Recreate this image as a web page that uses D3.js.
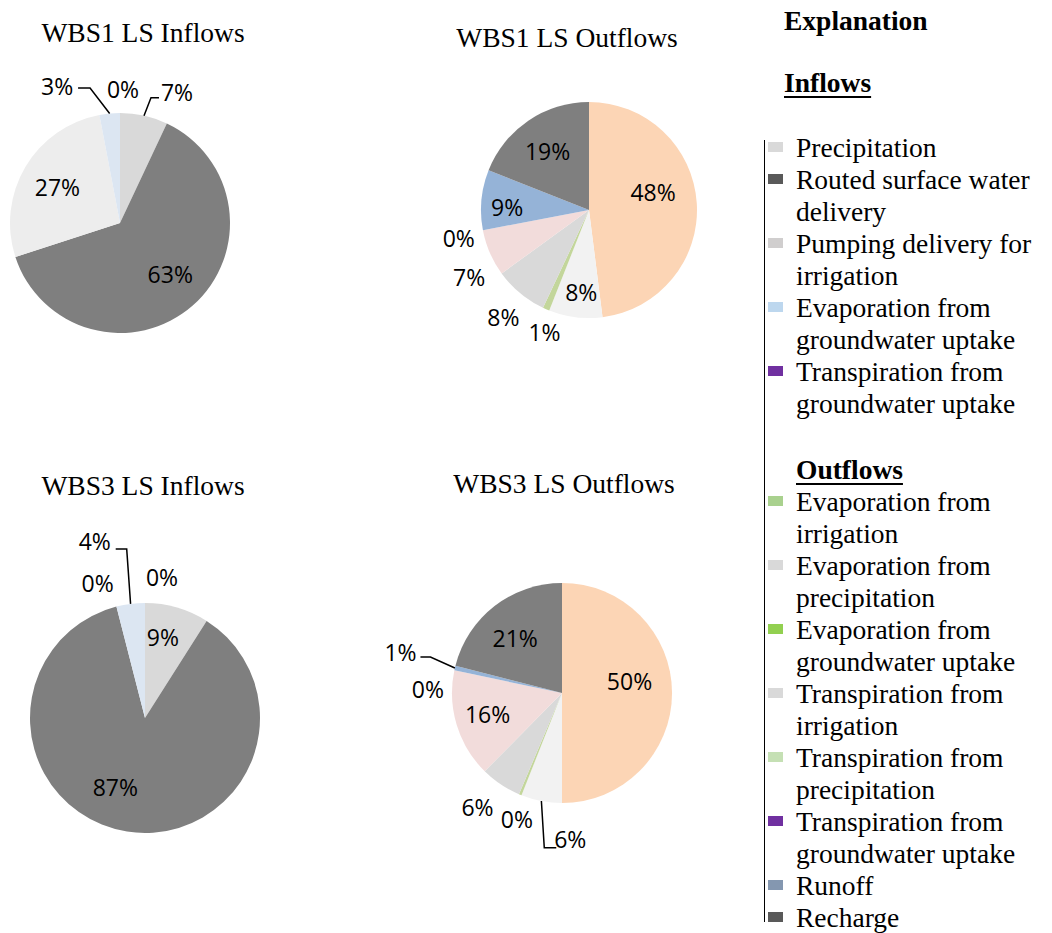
<!DOCTYPE html>
<html>
<head>
<meta charset="utf-8">
<script src="https://cdn.jsdelivr.net/npm/d3@7"></script>
<style>
  html, body { margin: 0; padding: 0; background: #fff; }
  svg { display: block; }
</style>
</head>
<body>
<svg id="chart" width="1052" height="933"></svg>
<script>
// ---------- DATA ----------
const inflowCategories = ["Precipitation", "Routed surface water delivery", "Pumping delivery for irrigation",
  "Evaporation from groundwater uptake", "Transpiration from groundwater uptake"];
const outflowCategories = ["Evaporation from irrigation", "Evaporation from precipitation",
  "Evaporation from groundwater uptake", "Transpiration from irrigation", "Transpiration from precipitation",
  "Transpiration from groundwater uptake", "Runoff", "Recharge"];

const wbs1Inflows  = [7, 63, 27, 3, 0];
const wbs1Outflows = [48, 8, 1, 8, 7, 0, 9, 19];
const wbs3Inflows  = [9, 87, 0, 4, 0];
const wbs3Outflows = [50, 6, 0.4, 6, 15.9, 0, 0.7, 21];

const inflowPieColors  = ["#d9d9d9", "#7f7f7f", "#ededed", "#dce6f2", "#7030a0"];
const outflowPieColors = ["#fcd5b5", "#f2f2f2", "#c3d69b", "#d9d9d9", "#f2dcdb", "#7030a0", "#95b3d7", "#7f7f7f"];

const inflowLegendLines = [["Precipitation"], ["Routed surface water", "delivery"], ["Pumping delivery for", "irrigation"],
  ["Evaporation from", "groundwater uptake"], ["Transpiration from", "groundwater uptake"]];
const outflowLegendLines = [["Evaporation from", "irrigation"], ["Evaporation from", "precipitation"],
  ["Evaporation from", "groundwater uptake"], ["Transpiration from", "irrigation"], ["Transpiration from", "precipitation"],
  ["Transpiration from", "groundwater uptake"], ["Runoff"], ["Recharge"]];
const inflowLegendColors  = ["#d9d9d9", "#595959", "#d0cece", "#bdd7ee", "#7030a0"];
const outflowLegendColors = ["#a9d18e", "#d9d9d9", "#92d050", "#d9d9d9", "#c5e0b4", "#7030a0", "#8497b0", "#595959"];

const titles = ["WBS1 LS Inflows", "WBS1 LS Outflows", "WBS3 LS Inflows", "WBS3 LS Outflows"];

// ---------- LAYOUT ----------
const svg = d3.select("#chart");
const serif = "'Liberation Serif', 'Times New Roman', serif";
const sans = "'Open Sans', 'Noto Sans', sans-serif";

const pies = [
  { title: titles[0], values: wbs1Inflows, colors: inflowPieColors, cx: 120, cy: 223, r: 110, tx: 143, ty: 42,
    k:     [1.25, 0.65, 0.65, 1.25, 1.25],
    nudge: [[27, 4], [3, -2], [-1, 1], [-50, 1], [3, 4]],
    leaders: { 0: [[-18, 5], [-26, 5]], 3: [[21, 1], [33, 1]] } },
  { title: titles[1], values: wbs1Outflows, colors: outflowPieColors, cx: 589, cy: 210, r: 108, tx: 567, ty: 47,
    k:     [0.65, 0.65, 1.2, 1.2, 1.2, 1.2, 0.65, 0.65],
    nudge: [[-6, -13], [1, 13], [7, 4], [-3, 8], [-1, 16], [-3, 4], [-12, 4], [-2, 0]],
    leaders: {} },
  { title: titles[2], values: wbs3Inflows, colors: inflowPieColors, cx: 145, cy: 718, r: 115, tx: 143, ty: 495,
    k:     [0.65, 0.65, 1.2, 1.2, 1.2],
    nudge: [[-3, -9], [-18, -4], [-13, -1], [-33, -39], [17, -2]],
    leaders: { 3: [[21, 7], [32, 7]] } },
  { title: titles[3], values: wbs3Outflows, colors: outflowPieColors, cx: 562, cy: 693, r: 110, tx: 564, ty: 493,
    k:     [0.65, 1.2, 1.2, 1.2, 0.65, 1.2, 1.2, 0.65],
    nudge: [[-4, -11], [33, 17], [5, 5], [-11, 5], [-6, 1], [-5, 24], [-33, -10], [-3, 2]],
    leaders: { 1: [[-14, 8], [-26, 8]], 6: [[20, 4], [30, 4]] } }
];

const pieGen = d3.pie().sort(null).value(d => d);

pies.forEach(p => {
  const total = d3.sum(p.values);
  const arcs = pieGen(p.values);
  const arc = d3.arc().innerRadius(0).outerRadius(p.r);

  svg.append("text")
    .attr("x", p.tx).attr("y", p.ty)
    .attr("text-anchor", "middle")
    .attr("font-family", serif).attr("font-size", 27.5)
    .attr("fill", "#000")
    .text(p.title);

  const g = svg.append("g").attr("transform", `translate(${p.cx},${p.cy})`);
  g.selectAll("path.slice").data(arcs).join("path")
    .attr("class", "slice")
    .attr("d", arc)
    .attr("fill", (d, i) => p.colors[i]);

  arcs.forEach((d, i) => {
    const mid = (d.startAngle + d.endAngle) / 2;
    const R = p.r * p.k[i];
    const lx = Math.sin(mid) * R + p.nudge[i][0];
    const ly = -Math.cos(mid) * R + p.nudge[i][1];
    const pct = Math.round(d.value / total * 100) + "%";
    g.append("text")
      .attr("x", lx).attr("y", ly)
      .attr("dy", "0.36em")
      .attr("text-anchor", "middle")
      .attr("font-family", sans).attr("font-size", 23)
      .attr("fill", "#000")
      .text(pct);
    const L = p.leaders[i];
    if (L) {
      const ex = Math.sin(mid) * p.r, ey = -Math.cos(mid) * p.r;
      const pts = [[lx + L[0][0], ly + L[0][1]], [lx + L[1][0], ly + L[1][1]], [ex, ey]];
      g.append("path")
        .attr("d", d3.line()(pts))
        .attr("fill", "none")
        .attr("stroke", "#000")
        .attr("stroke-width", 1.5);
    }
  });
});

// ---------- LEGEND ----------
const lg = svg.append("g");
lg.append("text").attr("x", 784).attr("y", 30)
  .attr("font-family", serif).attr("font-size", 27.5).attr("font-weight", "bold")
  .text("Explanation");

function header(txt, x, y) {
  const t = lg.append("text").attr("x", x).attr("y", y)
    .attr("font-family", serif).attr("font-size", 27.5).attr("font-weight", "bold")
    .text(txt);
  const w = t.node().getComputedTextLength();
  lg.append("line").attr("x1", x).attr("x2", x + w).attr("y1", y + 5).attr("y2", y + 5)
    .attr("stroke", "#000").attr("stroke-width", 2);
}
header("Inflows", 784, 92);
header("Outflows", 796, 479);

lg.append("line").attr("x1", 764.5).attr("x2", 764.5).attr("y1", 140).attr("y2", 922)
  .attr("stroke", "#000").attr("stroke-width", 1);

const lineH = 32;
function items(lines, colors, startY) {
  let y = startY;
  lines.forEach((ls, i) => {
    lg.append("rect").attr("x", 768).attr("y", y - 15).attr("width", 15).attr("height", 10)
      .attr("fill", colors[i]);
    ls.forEach((s, j) => {
      lg.append("text").attr("x", 796).attr("y", y + j * lineH)
        .attr("font-family", serif).attr("font-size", 27.5).attr("fill", "#000")
        .text(s);
    });
    y += ls.length * lineH;
  });
}
items(inflowLegendLines, inflowLegendColors, 157);
items(outflowLegendLines, outflowLegendColors, 511);
</script>
</body>
</html>
